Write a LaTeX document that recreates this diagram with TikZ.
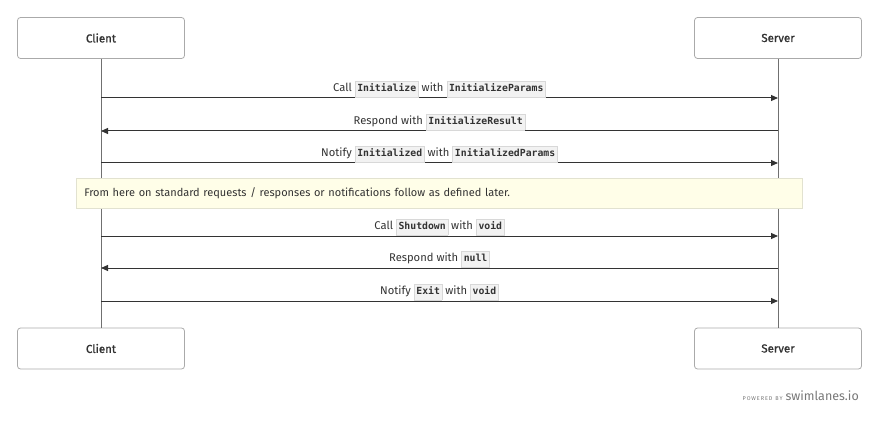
\documentclass[tikz,border=0pt]{standalone}
\usepackage{fontspec}
\setmainfont{Fira Sans}
\setmonofont{DejaVu Sans Mono}
\newfontfamily\actorfont[FakeBold=1.2]{Fira Sans}
\usetikzlibrary{arrows.meta}
\definecolor{boxline}{HTML}{AAAAAA}
\definecolor{lineclr}{HTML}{333333}
\definecolor{txt}{HTML}{333333}
\definecolor{notebg}{HTML}{FFFEE8}
\definecolor{noteline}{HTML}{E2E2D0}
\definecolor{codebg}{HTML}{F2F2F2}
\definecolor{codeline}{HTML}{D8D8D8}
\definecolor{foot}{HTML}{777777}
\newcommand\cd[1]{{\setlength\fboxsep{2pt}\setlength\fboxrule{0.5pt}\fcolorbox{codeline}{codebg}{\fontsize{9.8}{11.5}\ttfamily\bfseries\strut #1}}}
\tikzset{
  actor/.style={draw=boxline, line width=0.8pt, rounded corners=3pt, minimum width=167pt, minimum height=41pt, text=txt, font=\actorfont\fontsize{11.5}{13}\selectfont},
  life/.style={draw=lineclr!70, line width=0.8pt},
  msg/.style={draw=lineclr, line width=1pt, -{Triangle[length=7pt,width=6pt]}},
  lbl/.style={text=txt, font=\fontsize{11.2}{12}\selectfont, inner sep=0pt, anchor=base},
}
\begin{document}
\begin{tikzpicture}[x=1pt,y=-1pt]
\useasboundingbox (0,0) rectangle (880,422);
\node[actor] (c1) at (101,38) {Client};
\node[actor] (s1) at (778,38) {Server};
\node[actor] (c2) at (101,348.5) {Client};
\node[actor] (s2) at (778,348.5) {Server};
\draw[life] (c1.south) -- (c2.north);
\draw[life] (s1.south) -- (s2.north);
% message coordinates
\foreach \n/\y in {a/98,b/131,c/163,d/236,e/268,f/301}{
  \coordinate (cl\n) at (101,\y);
  \coordinate (sl\n) at (778,\y);
}
\draw[msg] (cla) -- (sla);
\draw[msg] (slb) -- (clb);
\draw[msg] (clc) -- (slc);
\draw[msg] (cld) -- (sld);
\draw[msg] (sle) -- (cle);
\draw[msg] (clf) -- (slf);
\node[lbl] (la) at (439.5,91.5) {Call \cd{Initialize} with \cd{InitializeParams}};
\node[lbl] (lb) at (439.5,124.5) {Respond with \cd{InitializeResult}};
\node[lbl] (lc) at (439.5,156.5) {Notify \cd{Initialized} with \cd{InitializedParams}};
\node[lbl] (ld) at (439.5,229.5) {Call \cd{Shutdown} with \cd{void}};
\node[lbl] (le) at (439.5,261.5) {Respond with \cd{null}};
\node[lbl] (lf) at (439.5,294.5) {Notify \cd{Exit} with \cd{void}};
\node[draw=noteline, fill=notebg, line width=0.6pt, minimum width=726pt, minimum height=30pt, anchor=west, text=txt, font=\fontsize{11}{13}\selectfont, align=left, text width=710pt] (note) at (76,193.5) {From here on standard requests / responses or notifications follow as defined later.};
\node[anchor=base east, inner sep=0pt, text=foot] (foot) at (859,400) {{\fontsize{5.5}{6}\selectfont P\,O\,W\,E\,R\,E\,D\ \ B\,Y}\hspace{3pt}{\fontsize{12.5}{14}\selectfont swimlanes.io}};
\end{tikzpicture}
\end{document}
